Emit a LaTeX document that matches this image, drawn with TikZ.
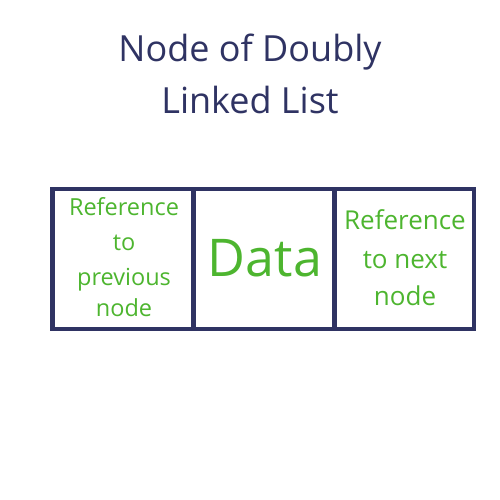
\documentclass[tikz,border=0pt]{standalone}
\usepackage{fontspec}
\setmainfont{Open Sans}
\definecolor{navy}{HTML}{2F3363}
\definecolor{leaf}{HTML}{4DB52F}
\begin{document}
\begin{tikzpicture}[x=1pt,y=-1pt,
  title/.style={text=navy,font=\fontsize{36}{36}\selectfont,anchor=base,inner sep=0pt},
  lab/.style={text=leaf,anchor=base,inner sep=0pt},
  cell/.style={draw=navy,line width=4.5pt}]
\useasboundingbox (0,0) rectangle (500,500);
\node[title] (t1) at (250,61.7) {Node of Doubly};
\node[title] (t2) at (250,113.3) {Linked List};
\draw[cell,line join=miter] (52.5,189) rectangle (474,329);
\draw[cell] (193.5,189) -- (193.5,329);
\draw[cell] (334.5,189) -- (334.5,329);
\begin{scope}[every node/.style={lab,font=\fontsize{23.5}{23.5}\selectfont}]
\node (l1) at (124,215) {Reference};
\node (l2) at (124,250) {to};
\node (l3) at (124,285) {previous};
\node (l4) at (124,316.7) {node};
\end{scope}
\begin{scope}[every node/.style={lab,font=\fontsize{26}{26}\selectfont}]
\node (r1) at (405,229.3) {Reference};
\node (r2) at (405,268.3) {to next};
\node (r3) at (405,305) {node};
\end{scope}
\node[lab,font=\fontsize{52}{52}\selectfont] (d) at (265,276.7) {Data};
\end{tikzpicture}
\end{document}
